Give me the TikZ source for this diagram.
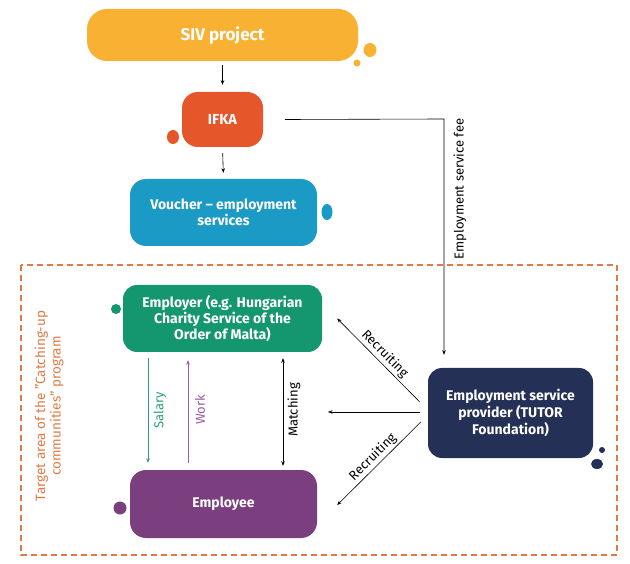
\documentclass[tikz,border=0pt]{standalone}
\usepackage{fontspec}
\setmainfont{Fira Sans}
\usetikzlibrary{arrows.meta}
\definecolor{sivc}{HTML}{F8B133}
\definecolor{ifkac}{HTML}{E5562A}
\definecolor{vouc}{HTML}{1A9AC5}
\definecolor{empc}{HTML}{14976E}
\definecolor{emplc}{HTML}{7B3E7F}
\definecolor{tutc}{HTML}{253057}
\definecolor{dashc}{HTML}{E07A45}
\definecolor{salc}{HTML}{2E9E7C}
\definecolor{workc}{HTML}{9C5C9E}
\begin{document}
\begin{tikzpicture}[x=1pt,y=-1pt,
  box/.style={rounded corners=14pt, text=white, font=\bfseries\fontsize{14}{16}\selectfont, align=center, inner sep=0pt, draw=none},
  arr/.style={-{Stealth[length=4.5pt,width=3.5pt]}, line width=0.6pt},
  lbl/.style={font=\fontsize{13}{15}\selectfont, inner sep=2pt}]
\useasboundingbox (0,0) rectangle (630,564);
\fill[white] (0,0) rectangle (630,564);
% target area
\draw[dashc, line width=1.5pt, dash pattern=on 6pt off 4pt] (21,265) rectangle (617,555);
\node[lbl, text=dashc, rotate=90, align=center, font=\fontsize{13.5}{15.5}\selectfont] (target) at (49,406) {Target area of the "Catching-up\\communities" program};
% boxes
\node[box, fill=sivc, minimum width=271pt, minimum height=52pt, rounded corners=20pt, font=\bfseries\fontsize{17}{19}\selectfont] (siv) at (222.5,35) {SIV project};
\node[box, fill=ifkac, minimum width=81pt, minimum height=55pt, rounded corners=16pt, font=\bfseries\fontsize{14.5}{16}\selectfont] (ifka) at (222.5,119.5) {IFKA};
\node[box, fill=vouc, minimum width=187pt, minimum height=67pt, rounded corners=16pt] (vou) at (223.5,212.5) {Voucher – employment\\services};
\node[box, fill=empc, minimum width=199pt, minimum height=67pt] (emp) at (222.5,318.5) {Employer (e.g. Hungarian\\Charity Service of the\\Order of Malta)};
\node[box, fill=emplc, minimum width=187pt, minimum height=68pt, rounded corners=16pt] (empl) at (223.5,504) {Employee};
\node[box, fill=tutc, minimum width=165pt, minimum height=90pt, font=\bfseries\fontsize{14}{17}\selectfont] (tut) at (510.5,413) {Employment service\\provider (TUTOR\\Foundation)};
% dots
\fill[sivc] (370,50) ellipse [x radius=6.5pt, y radius=7pt];
\fill[sivc] (357,63) circle [radius=3.5pt];
\fill[ifkac] (173,137) ellipse [x radius=6pt, y radius=7pt];
\fill[vouc] (327,212) ellipse [x radius=5.5pt, y radius=8pt];
\fill[empc] (116,309) circle [radius=5pt];
\fill[emplc] (120,508) circle [radius=6.5pt];
\fill[tutc] (602,450) circle [radius=3pt];
\fill[tutc] (597,464) ellipse [x radius=6pt, y radius=5pt];
% connectors
\draw[arr, shorten <=4pt, shorten >=7pt] (siv.south) -- (ifka.north);
\draw[arr, shorten <=6pt, shorten >=6pt] (ifka.south) -- (vou.north);
\coordinate (feecorner) at (444,119);
\draw[arr, shorten >=13pt] ([shift={(22,0)}]ifka.east) -- (feecorner) -- (feecorner |- tut.north);
\node[lbl, rotate=90] (feelbl) at (460,189) {Employment service fee};
\coordinate (m1e) at (328,412);
\draw[arr] ([shift={(-8,-11)}]tut.west) -- ([shift={(15,0)}]emp.east) node[lbl, midway, sloped, above] (rec1) {Recruiting};
\draw[arr] ([shift={(-8,-1)}]tut.west) -- (m1e);
\draw[arr] ([shift={(-7,9)}]tut.west) -- ([shift={(20,1)}]empl.east) node[lbl, midway, sloped, above] (rec2) {Recruiting};
\draw[arr, salc, shorten <=6pt, shorten >=7pt] ([xshift=-74.5pt]emp.south) -- ([xshift=-75.5pt]empl.north);
\node[lbl, text=salc, rotate=90] (sal) at (160,410) {Salary};
\draw[arr, workc, shorten <=7pt, shorten >=8pt] ([xshift=-35.5pt]empl.north) -- ([xshift=-34.5pt]emp.south);
\node[lbl, text=workc, rotate=90] (work) at (200,410) {Work};
\draw[arr, {Stealth[length=4.5pt,width=3.5pt]}-{Stealth[length=4.5pt,width=3.5pt]}, shorten <=6pt, shorten >=4pt] ([xshift=60.5pt]emp.south) -- ([xshift=59.5pt]empl.north);
\node[lbl, rotate=90] (match) at (294,410) {Matching};
\end{tikzpicture}
\end{document}
